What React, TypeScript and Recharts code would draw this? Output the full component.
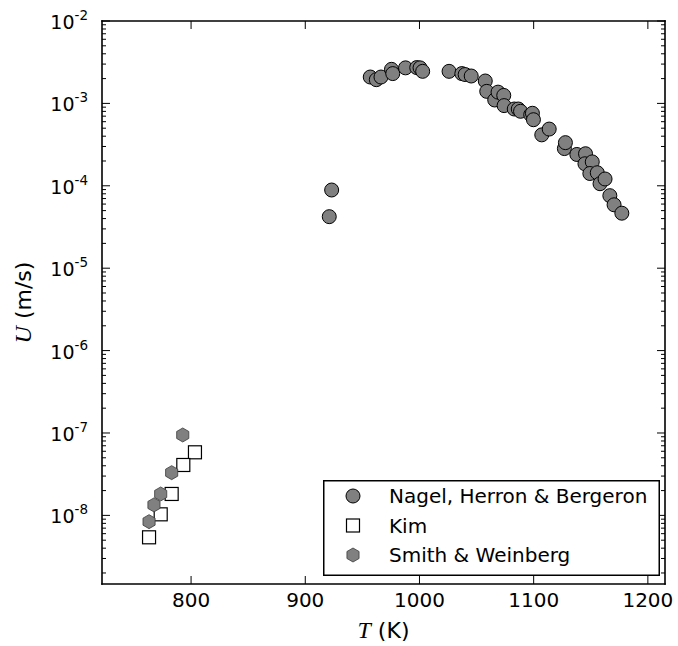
import React from 'react';
import { ScatterChart, Scatter, XAxis, YAxis, Legend } from 'recharts';

// ---------- data ----------
const NAGEL_T = [
  921, 923.1, 956.9, 962.2, 966.3, 975.5, 976.6, 987.8, 997.6, 1000.5, 1002.8,
  1025.9, 1037.1, 1040, 1045.3, 1057.6, 1058.9, 1065.9, 1068.8, 1073.8, 1074.1,
  1083, 1086.5, 1088.5, 1097.4, 1098.9, 1099.8, 1107.1, 1113.6, 1126.9, 1127.8,
  1137.8, 1145.4, 1144.9, 1151.3, 1149.2, 1155.7, 1158.1, 1162.5, 1166.7, 1170.4, 1177.2,
];
const NAGEL_U = [
  4.22e-5, 8.89e-5, 2.09e-3, 1.94e-3, 2.09e-3, 2.59e-3, 2.3e-3, 2.7e-3, 2.72e-3, 2.7e-3, 2.45e-3,
  2.45e-3, 2.3e-3, 2.24e-3, 2.15e-3, 1.87e-3, 1.4e-3, 1.1e-3, 1.37e-3, 1.25e-3, 9.4e-4,
  8.55e-4, 8.55e-4, 8.02e-4, 7.29e-4, 7.59e-4, 6.34e-4, 4.15e-4, 4.88e-4, 2.83e-4, 3.34e-4,
  2.4e-4, 2.45e-4, 1.85e-4, 1.95e-4, 1.41e-4, 1.44e-4, 1.06e-4, 1.21e-4, 7.59e-5, 5.88e-5, 4.65e-5,
];
const KIM_T = [803.4, 793.2, 783, 773.4, 763.2];
const KIM_U = [5.83e-8, 4.09e-8, 1.82e-8, 1.03e-8, 5.42e-9];
const SMITH_T = [792.7, 783, 773.4, 767.5, 763.2];
const SMITH_U = [9.46e-8, 3.3e-8, 1.82e-8, 1.34e-8, 8.39e-9];

const SERIES_NAMES = ['Nagel, Herron & Bergeron', 'Kim', 'Smith & Weinberg'];
const X_TICKS = [800, 900, 1000, 1100, 1200];
const X_DOMAIN = [722, 1215];
const Y_DOMAIN = [1.47e-9, 1e-2];
const Y_MAJOR_EXP = [-8, -7, -6, -5, -4, -3, -2];
const Y_MINOR_MANTISSA = [2, 3, 4, 5, 6, 7, 8, 9];

const toPoints = (ts: number[], us: number[]) => ts.map((t, i) => ({ T: t, U: us[i] }));
const nagelData = toPoints(NAGEL_T, NAGEL_U);
const kimData = toPoints(KIM_T, KIM_U);
const smithData = toPoints(SMITH_T, SMITH_U);

const Y_TICKS: number[] = [];
[-9, ...Y_MAJOR_EXP].forEach((e) => {
  if (e >= -8) Y_TICKS.push(Math.pow(10, e));
  if (e < -2) Y_MINOR_MANTISSA.forEach((m) => Y_TICKS.push(m * Math.pow(10, e)));
});

// ---------- styles ----------
const SANS = 'DejaVu Sans, sans-serif';
const SERIF = 'Liberation Serif, DejaVu Serif, serif';
const GRAY = '#808080';

const circleMark = (cx: number, cy: number) => (
  <circle cx={cx} cy={cy} r={7} fill={GRAY} stroke="#000" strokeWidth={1} />
);
const squareMark = (cx: number, cy: number) => (
  <rect x={cx - 6.5} y={cy - 6.5} width={13} height={13} fill="#fff" stroke="#000" strokeWidth={1.2} />
);
const hexMark = (cx: number, cy: number) => {
  const r = 7;
  const pts = [-90, -30, 30, 90, 150, 210]
    .map((a) => {
      const rad = (a * Math.PI) / 180;
      return `${cx + r * Math.cos(rad)},${cy + r * Math.sin(rad)}`;
    })
    .join(' ');
  return <polygon points={pts} fill={GRAY} stroke="#3a3a3a" strokeWidth={0.8} />;
};
const MARKERS = [circleMark, squareMark, hexMark];

const isMajor = (v: number) => {
  const e = Math.log10(v);
  return Math.abs(e - Math.round(e)) < 1e-6;
};

const BottomTick = (p: any) => (
  <g>
    <line x1={p.x} x2={p.x} y1={p.y} y2={p.y - 8} stroke="#000" strokeWidth={1} />
    <text x={p.x} y={p.y + 23} textAnchor="middle" fontFamily={SANS} fontSize={20} fill="#000">
      {p.payload.value}
    </text>
  </g>
);
const TopTick = (p: any) => (
  <line x1={p.x} x2={p.x} y1={p.y} y2={p.y + 8} stroke="#000" strokeWidth={1} />
);
const LeftTick = (p: any) => {
  const v = p.payload.value;
  if (!isMajor(v)) return <line x1={p.x} x2={p.x + 4} y1={p.y} y2={p.y} stroke="#000" strokeWidth={1} />;
  const e = Math.round(Math.log10(v));
  return (
    <g>
      <line x1={p.x} x2={p.x + 8} y1={p.y} y2={p.y} stroke="#000" strokeWidth={1} />
      <text x={p.x - 14} y={p.y + 8} textAnchor="end" fontFamily={SANS} fill="#000">
        <tspan fontSize={19}>10</tspan>
        <tspan fontSize={13.5} dy={-9}>{`-${-e}`}</tspan>
      </text>
    </g>
  );
};
const RightTick = (p: any) => {
  const len = isMajor(p.payload.value) ? 8 : 4;
  return <line x1={p.x} x2={p.x - len} y1={p.y} y2={p.y} stroke="#000" strokeWidth={1} />;
};

const XLabel = (p: any) => {
  const vb = p.viewBox || { x: 102, y: 584, width: 563, height: 62 };
  return (
    <text x={vb.x + vb.width / 2} y={vb.y + 54} textAnchor="middle" fill="#000" fontSize={24}>
      <tspan fontFamily={SERIF} fontStyle="italic">T</tspan>
      <tspan fontFamily={SANS} fontSize={22}> (K)</tspan>
    </text>
  );
};
const YLabel = (p: any) => {
  const vb = p.viewBox || { x: 0, y: 21, width: 102, height: 563 };
  const cx = 24;
  const cy = vb.y + vb.height / 2;
  return (
    <text
      x={cx}
      y={cy + 7}
      transform={`rotate(-90 ${cx} ${cy})`}
      textAnchor="middle"
      fill="#000"
      fontSize={24}
    >
      <tspan fontFamily={SERIF} fontStyle="italic">U</tspan>
      <tspan fontFamily={SANS} fontSize={22}> (m/s)</tspan>
    </text>
  );
};

const renderLegend = () => (
  <svg width={337} height={96} style={{ display: 'block' }}>
    <rect x={0.75} y={0.75} width={335.5} height={94.5} fill="#fff" stroke="#000" strokeWidth={1.5} />
    {SERIES_NAMES.map((name, i) => {
      const cy = 16 + i * 29.5;
      return (
        <g key={name}>
          {MARKERS[i](30, cy)}
          <text x={66} y={cy + 7} fontFamily={SANS} fontSize={20} fill="#000">
            {name}
          </text>
        </g>
      );
    })}
  </svg>
);

const axisLine = { stroke: '#000', strokeWidth: 1.6, strokeLinecap: 'square' as const };

export default function App() {
  return (
    <div style={{ position: 'absolute', left: 0, top: 0, width: 678, height: 646, background: '#fff' }}>
      <ScatterChart width={678} height={646} margin={{ top: 20, right: 12, bottom: 0, left: 0 }}>
        <XAxis
          xAxisId={0}
          dataKey="T"
          type="number"
          domain={X_DOMAIN}
          allowDataOverflow
          ticks={X_TICKS}
          interval={0}
          height={62}
          tickSize={0}
          tickMargin={0}
          tickLine={false}
          axisLine={axisLine}
          tick={<BottomTick />}
          label={<XLabel />}
        />
        <XAxis
          xAxisId="top"
          orientation="top"
          dataKey="T"
          type="number"
          domain={X_DOMAIN}
          allowDataOverflow
          ticks={X_TICKS}
          interval={0}
          height={1}
          tickSize={0}
          tickMargin={0}
          tickLine={false}
          axisLine={axisLine}
          tick={<TopTick />}
        />
        <YAxis
          yAxisId={0}
          dataKey="U"
          type="number"
          scale="log"
          domain={Y_DOMAIN}
          allowDataOverflow
          ticks={Y_TICKS}
          interval={0}
          width={102}
          tickSize={0}
          tickMargin={0}
          tickLine={false}
          axisLine={axisLine}
          tick={<LeftTick />}
          label={<YLabel />}
        />
        <YAxis
          yAxisId="right"
          orientation="right"
          dataKey="U"
          type="number"
          scale="log"
          domain={Y_DOMAIN}
          allowDataOverflow
          ticks={Y_TICKS}
          interval={0}
          width={1}
          tickSize={0}
          tickMargin={0}
          tickLine={false}
          axisLine={axisLine}
          tick={<RightTick />}
        />
        <Legend
          layout="horizontal"
          verticalAlign="middle"
          align="center"
          content={renderLegend}
          wrapperStyle={{ left: 323, top: 480, width: 337, height: 96 }}
        />
        <Scatter
          name={SERIES_NAMES[0]}
          data={nagelData}
          isAnimationActive={false}
          shape={(p: any) => circleMark(p.cx, p.cy)}
        />
        <Scatter
          name={SERIES_NAMES[1]}
          data={kimData}
          isAnimationActive={false}
          shape={(p: any) => squareMark(p.cx, p.cy)}
        />
        <Scatter
          name={SERIES_NAMES[2]}
          data={smithData}
          isAnimationActive={false}
          shape={(p: any) => hexMark(p.cx, p.cy)}
        />
      </ScatterChart>
    </div>
  );
}
